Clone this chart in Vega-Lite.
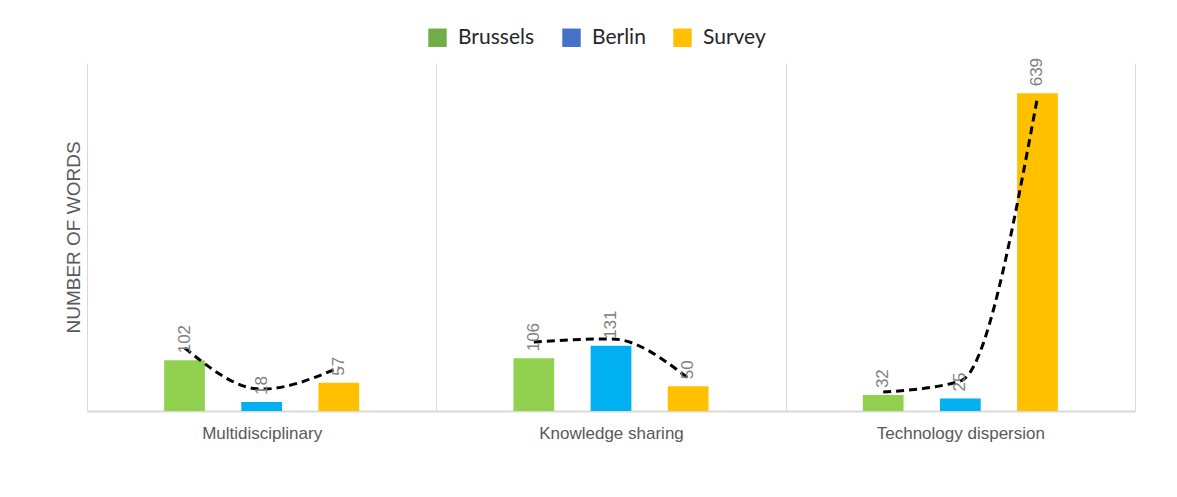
{
  "$schema": "https://vega.github.io/schema/vega-lite/v6.json",
  "autosize": {"type": "none"},
  "width": 1048,
  "height": 348,
  "padding": {"left": 87, "top": 63, "right": 42, "bottom": 86},
  "background": "white",
  "config": {"view": {"stroke": null}, "font": "Liberation Sans"},
  "datasets": {
    "bars": [
      {"Group": "Multidisciplinary", "Series": "Brussels", "Words": 102},
      {"Group": "Multidisciplinary", "Series": "Berlin", "Words": 18},
      {"Group": "Multidisciplinary", "Series": "Survey", "Words": 57},
      {"Group": "Knowledge sharing", "Series": "Brussels", "Words": 106},
      {"Group": "Knowledge sharing", "Series": "Berlin", "Words": 131},
      {"Group": "Knowledge sharing", "Series": "Survey", "Words": 50},
      {"Group": "Technology dispersion", "Series": "Brussels", "Words": 32},
      {"Group": "Technology dispersion", "Series": "Berlin", "Words": 25},
      {"Group": "Technology dispersion", "Series": "Survey", "Words": 639}
    ],
    "trend": [
      {"Group": "Multidisciplinary", "Series": "Brussels", "Trend": 127},
      {"Group": "Multidisciplinary", "Series": "Berlin", "Trend": 44},
      {"Group": "Multidisciplinary", "Series": "Survey", "Trend": 87},
      {"Group": "Knowledge sharing", "Series": "Brussels", "Trend": 139},
      {"Group": "Knowledge sharing", "Series": "Berlin", "Trend": 145},
      {"Group": "Knowledge sharing", "Series": "Survey", "Trend": 66},
      {"Group": "Technology dispersion", "Series": "Brussels", "Trend": 38},
      {"Group": "Technology dispersion", "Series": "Berlin", "Trend": 60},
      {"Group": "Technology dispersion", "Series": "Survey", "Trend": 631}
    ],
    "legendKeys": [
      {"Key": "Brussels", "Group": "Multidisciplinary", "Level": 0},
      {"Key": "Berlin", "Group": "Multidisciplinary", "Level": 0},
      {"Key": "Survey", "Group": "Multidisciplinary", "Level": 0}
    ]
  },
  "encoding": {
    "x": {
      "field": "Group", "type": "nominal",
      "sort": ["Multidisciplinary", "Knowledge sharing", "Technology dispersion"],
      "scale": {"paddingInner": 0, "paddingOuter": 0},
      "axis": {
        "title": null, "labelAngle": 0, "ticks": false, "tickBand": "extent",
        "grid": true, "gridColor": "#d9d9d9", "gridWidth": 1,
        "domainColor": "#d9d9d9", "domainWidth": 2,
        "labelFontSize": 17, "labelColor": "#595959", "labelPadding": 14,
        "labelFont": "Liberation Sans"
      }
    },
    "y": {
      "type": "quantitative",
      "scale": {"domain": [0, 700], "nice": false},
      "axis": {
        "title": "NUMBER OF WORDS", "labels": false, "ticks": false, "domain": false, "grid": false,
        "titleFontSize": 19, "titleFontWeight": "normal", "titleColor": "#595959",
        "titleFont": "Liberation Sans", "titlePadding": 4
      }
    }
  },
  "layer": [
    {
      "data": {"name": "bars"},
      "mark": {"type": "bar"},
      "encoding": {
        "xOffset": {
          "field": "Series", "type": "nominal",
          "scale": {"domain": ["Brussels", "Berlin", "Survey"], "paddingInner": 0.472, "paddingOuter": 1.16}
        },
        "y": {"field": "Words", "type": "quantitative"},
        "color": {
          "field": "Series", "type": "nominal",
          "scale": {"domain": ["Survey", "Brussels", "Berlin"], "range": ["#FFC000", "#92D050", "#00B0F0"]},
          "legend": null
        }
      }
    },
    {
      "data": {"name": "legendKeys"},
      "mark": {"type": "square", "size": 0},
      "encoding": {
        "y": {"field": "Level", "type": "quantitative"},
        "fill": {
          "field": "Key", "type": "nominal",
          "scale": {"domain": ["Brussels", "Berlin", "Survey"], "range": ["#70AD47", "#4472C4", "#FFC000"]},
          "legend": {
            "title": null, "orient": "none", "direction": "horizontal",
            "legendX": 340, "legendY": -36,
            "symbolType": "square", "symbolSize": 340, "symbolOpacity": 1, "symbolStrokeWidth": 0,
            "labelFontSize": 21, "labelFont": "Lato", "labelColor": "#262626",
            "labelOffset": 10, "columnPadding": 26
          }
        }
      }
    },
    {
      "data": {"name": "trend"},
      "mark": {"type": "line", "interpolate": "monotone", "color": "black", "strokeWidth": 3, "strokeDash": [8, 5]},
      "encoding": {
        "xOffset": {"field": "Series", "type": "nominal"},
        "y": {"field": "Trend", "type": "quantitative"},
        "detail": {"field": "Group", "type": "nominal"}
      }
    },
    {
      "data": {"name": "bars"},
      "mark": {"type": "text", "angle": 270, "align": "left", "baseline": "middle", "dx": 7, "fontSize": 17, "color": "#808080", "font": "Liberation Sans"},
      "encoding": {
        "xOffset": {"field": "Series", "type": "nominal"},
        "y": {"field": "Words", "type": "quantitative"},
        "text": {"field": "Words", "type": "quantitative"}
      }
    }
  ]
}
